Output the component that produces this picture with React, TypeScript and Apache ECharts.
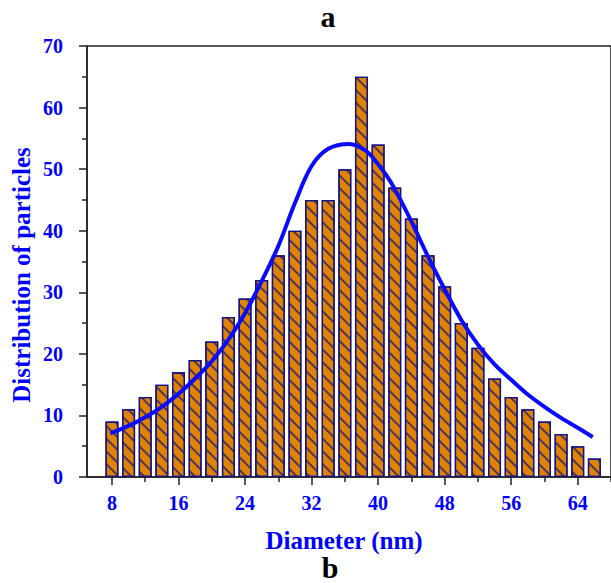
import React, { useEffect, useRef } from "react";
import * as echarts from "echarts";

// Histogram bins (centre of each 2 nm bin) and counts
const binCenters = [8, 10, 12, 14, 16, 18, 20, 22, 24, 26, 28, 30, 32, 34, 36, 38, 40, 42, 44, 46, 48, 50, 52, 54, 56, 58, 60, 62, 64, 66];
const binCounts = [9, 11, 13, 15, 17, 19, 22, 26, 29, 32, 36, 40, 45, 45, 50, 65, 54, 47, 42, 36, 31, 25, 21, 16, 13, 11, 9, 7, 5, 3];

// Fitted curve
const fitX = [7.8, 10, 12, 14, 16, 18, 20, 22, 24, 26, 28, 30, 32, 34, 36.5, 38.5, 40, 41, 42, 44, 46, 48, 50, 52, 54, 56, 58, 60, 62, 64, 65.8];
const fitY = [7.1, 8.3, 9.7, 11.4, 13.5, 16, 18.8, 22.3, 26.6, 31.8, 37.5, 44.5, 50.5, 53.3, 54.1, 53, 50.8, 49, 46.8, 41.5, 35.8, 30.5, 25.5, 21.5, 18.3, 15.8, 13.4, 11.4, 9.6, 8, 6.5];

// Tick values
const xMajorTicks = [8, 16, 24, 32, 40, 48, 56, 64];
const xMinorTicks = [12, 20, 28, 36, 44, 52, 60, 68];

const FONT = "'Liberation Serif', 'Times New Roman', serif";
const BLUE = "#0000ff";

export default function App() {
  const ref = useRef<HTMLDivElement>(null);

  useEffect(() => {
    if (!ref.current) return;
    const chart = echarts.init(ref.current, null, { renderer: "svg" });
    const barData = binCenters.map((x, i) => [x, binCounts[i]]);
    const fitData = fitX.map((x, i) => [x, fitY[i]]);

    chart.setOption({
      animation: false,
      backgroundColor: "#ffffff",
      grid: {
        left: 87,
        top: 46,
        width: 531,
        height: 431,
        show: true,
        borderColor: "#222",
        borderWidth: 1.5,
        backgroundColor: "transparent",
      },
      xAxis: [
        {
          type: "value",
          min: 5,
          max: 68,
          position: "bottom",
          axisLine: { show: true, lineStyle: { color: "#222", width: 1.5 } },
          axisTick: { show: true, length: 8, customValues: xMajorTicks, lineStyle: { color: "#222", width: 1.5 } },
          axisLabel: {
            show: true,
            customValues: xMajorTicks,
            margin: 16,
            color: BLUE,
            fontFamily: FONT,
            fontWeight: "bold",
            fontSize: 20,
          },
          splitLine: { show: false },
        },
        {
          type: "value",
          min: 5,
          max: 68,
          position: "bottom",
          axisLine: { show: false },
          axisTick: { show: true, length: 5, customValues: xMinorTicks, lineStyle: { color: "#222", width: 1.5 } },
          axisLabel: { show: false },
          splitLine: { show: false },
        },
      ],
      yAxis: {
        type: "value",
        min: 0,
        max: 70,
        interval: 10,
        axisLine: { show: true, lineStyle: { color: "#222", width: 1.5 } },
        axisTick: { show: true, length: 8, lineStyle: { color: "#222", width: 1.5 } },
        minorTick: { show: true, splitNumber: 2, length: 5, lineStyle: { color: "#222", width: 1.5 } },
        axisLabel: {
          margin: 24,
          color: BLUE,
          fontFamily: FONT,
          fontWeight: "bold",
          fontSize: 20,
        },
        splitLine: { show: false },
      },
      series: [
        {
          type: "bar",
          xAxisIndex: 0,
          data: barData,
          barWidth: 13,
          itemStyle: {
            color: "#e08300",
            borderColor: "#12128a",
            borderWidth: 1.3,
            decal: {
              symbol: "rect",
              symbolSize: 1,
              color: "rgba(20,20,120,0.7)",
              dashArrayX: [1, 0],
              dashArrayY: [1.5, 6.5],
              rotation: Math.PI / 4,
            },
          },
          z: 2,
        },
        {
          type: "line",
          xAxisIndex: 0,
          data: fitData,
          smooth: 0.35,
          showSymbol: false,
          symbol: "none",
          lineStyle: { color: "#0a0aff", width: 4 },
          z: 3,
        },
      ],
      graphic: [
        {
          type: "text",
          x: 328,
          y: 16,
          style: { text: "a", font: `bold 30px ${FONT}`, fill: "#000", align: "center", verticalAlign: "middle" },
        },
        {
          type: "text",
          x: 330,
          y: 567,
          style: { text: "b", font: `bold 30px ${FONT}`, fill: "#000", align: "center", verticalAlign: "middle" },
        },
        {
          type: "text",
          x: 344,
          y: 540,
          style: { text: "Diameter (nm)", font: `bold 25px ${FONT}`, fill: BLUE, align: "center", verticalAlign: "middle" },
        },
        {
          type: "text",
          x: 21,
          y: 275,
          rotation: Math.PI / 2,
          style: { text: "Distribution of particles", font: `bold 25px ${FONT}`, fill: BLUE, align: "center", verticalAlign: "middle" },
        },
      ],
    });

    return () => chart.dispose();
  }, []);

  return <div ref={ref} style={{ position: "absolute", left: 0, top: 0, width: 611, height: 583 }} />;
}
